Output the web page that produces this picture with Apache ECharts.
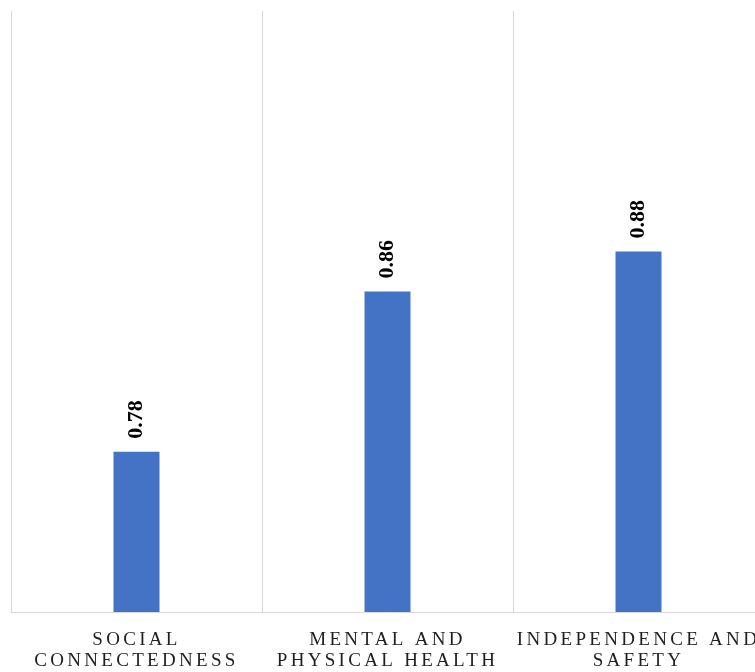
<!DOCTYPE html>
<html>
<head>
<meta charset="utf-8">
<script src="https://cdn.jsdelivr.net/npm/echarts@6/dist/echarts.min.js"></script>
<style>
  html, body { margin: 0; padding: 0; background: #ffffff; overflow: hidden; }
  #wrap { width: 755px; height: 672px; overflow: hidden; }
  #chart { width: 764px; height: 672px; }
</style>
</head>
<body>
<div id="wrap"><div id="chart"></div></div>
<script>
const categories = ['SOCIAL\nCONNECTEDNESS', 'MENTAL AND\nPHYSICAL HEALTH', 'INDEPENDENCE AND\nSAFETY'];
const values = [0.78, 0.86, 0.88];
const yMin = 0.7;
const yMax = 1.0;

const chart = echarts.init(document.getElementById('chart'), null, { renderer: 'canvas' });

// Axis (labels + separators) drawn on its own canvas layer so that the
// category labels can get letter spacing like the reference.
try {
  const layer = chart.getZr().painter.getLayer(1);
  if (layer && layer.ctx) { layer.ctx.letterSpacing = '3.3px'; }
} catch (e) {}

chart.setOption({
  animation: false,
  backgroundColor: '#ffffff',
  grid: { left: 11, top: 11, right: 0, bottom: 59, containLabel: false },
  xAxis: {
    type: 'category',
    zlevel: 1,
    data: categories,
    boundaryGap: true,
    axisLine: { show: true, lineStyle: { color: '#d9d9d9', width: 1 } },
    axisTick: { show: false },
    splitLine: { show: true, lineStyle: { color: '#d9d9d9', width: 1 } },
    axisLabel: {
      interval: 0,
      margin: 18,
      fontFamily: 'Liberation Serif',
      fontSize: 19,
      lineHeight: 21,
      color: '#1f1f1f'
    }
  },
  yAxis: {
    type: 'value',
    min: yMin,
    max: yMax,
    show: false,
    splitLine: { show: false }
  },
  series: [{
    type: 'bar',
    data: values,
    barWidth: 46,
    itemStyle: { color: '#4472C4' },
    label: {
      show: true,
      position: 'top',
      rotate: 90,
      align: 'left',
      verticalAlign: 'middle',
      distance: 13,
      formatter: p => p.value.toFixed(2),
      fontFamily: 'Liberation Serif',
      fontWeight: 'bold',
      fontSize: 22,
      color: '#000000'
    }
  }]
});
</script>
</body>
</html>
